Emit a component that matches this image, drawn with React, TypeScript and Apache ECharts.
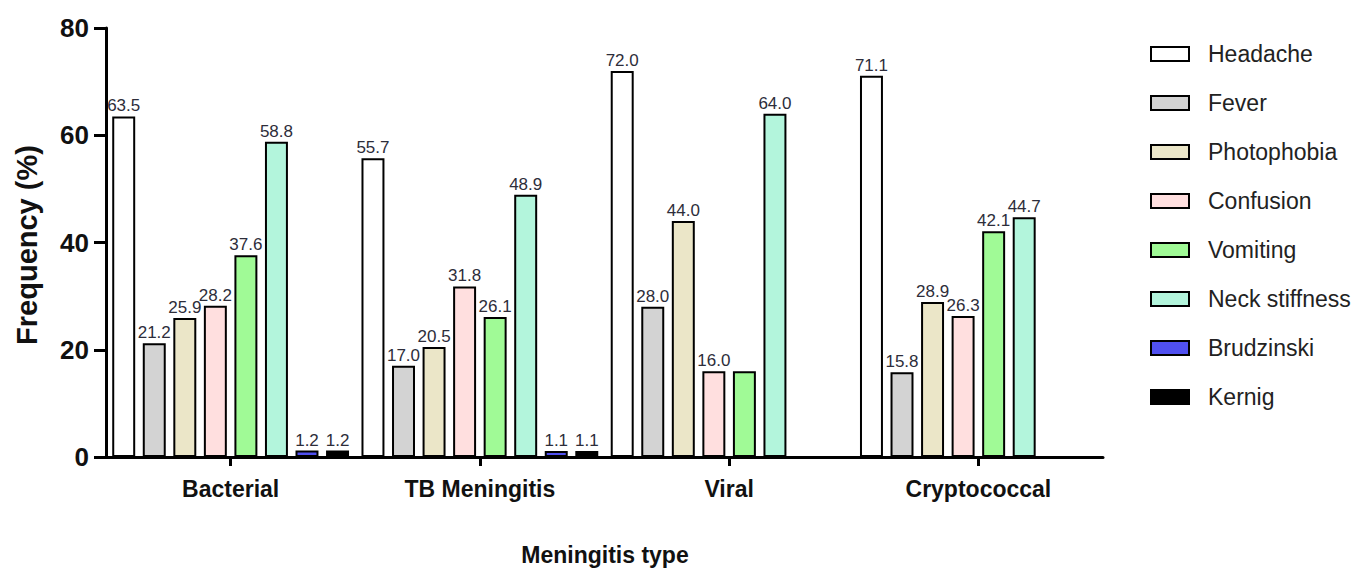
import React, { useEffect, useRef } from "react";
import * as echarts from "echarts";

const categories = ["Bacterial", "TB Meningitis", "Viral", "Cryptococcal"];
const seriesNames = [
  "Headache",
  "Fever",
  "Photophobia",
  "Confusion",
  "Vomiting",
  "Neck stiffness",
  "Brudzinski",
  "Kernig",
];
const headache = [63.5, 55.7, 72.0, 71.1];
const fever = [21.2, 17.0, 28.0, 15.8];
const photophobia = [25.9, 20.5, 44.0, 28.9];
const confusion = [28.2, 31.8, 16.0, 26.3];
const vomiting = [37.6, 26.1, 16.0, 42.1];
const neckStiffness = [58.8, 48.9, 64.0, 44.7];
const brudzinski = [1.2, 1.1, null, null];
const kernig = [1.2, 1.1, null, null];
const yTicks = [0, 20, 40, 60, 80];

const seriesValues = [headache, fever, photophobia, confusion, vomiting, neckStiffness, brudzinski, kernig];
const colors = ["#ffffff", "#d3d3d3", "#ebe6c8", "#ffdfdf", "#a0fa96", "#b3f5dc", "#5050f0", "#000000"];
// labels that are not shown in the reference (series index, category index)
const hiddenLabels = [[4, 2]];

export default function App() {
  const ref = useRef<HTMLDivElement>(null);
  useEffect(() => {
    if (!ref.current) return;
    const chart = echarts.init(ref.current, null, { renderer: "svg" });
    const series = seriesNames.map((name, si) => ({
      name,
      type: "bar",
      barCategoryGap: "5%",
      barGap: "33%",
      itemStyle: { color: colors[si], borderColor: "#000", borderWidth: 2 },
      label: {
        show: true,
        position: "top",
        distance: 2,
        fontFamily: "Liberation Sans, Arial, sans-serif",
        fontSize: 17,
        color: "#2d2d3a",
        formatter: (p: any) => (p.value == null ? "" : Number(p.value).toFixed(1)),
      },
      data: seriesValues[si].map((v, ci) => {
        if (v == null) return "-";
        const hide = hiddenLabels.some(([s, c]) => s === si && c === ci);
        return hide ? { value: v, label: { show: false } } : v;
      }),
    }));
    chart.setOption({
      animation: false,
      backgroundColor: "#ffffff",
      grid: { left: 106, top: 28, width: 997, height: 429, containLabel: false },
      legend: {
        orient: "vertical",
        left: 1145,
        top: 37,
        itemWidth: 38,
        itemHeight: 14,
        itemGap: 25,
        icon: "rect",
        data: seriesNames,
        textStyle: {
          fontFamily: "Liberation Sans, Arial, sans-serif",
          fontSize: 23,
          lineHeight: 24,
          color: "#222",
          padding: [0, 0, 0, 14],
        },
      },
      xAxis: {
        type: "category",
        data: categories,
        axisLine: { lineStyle: { color: "#000", width: 3 } },
        axisTick: {
          show: true,
          interval: 0,
          alignWithLabel: true,
          length: 9,
          lineStyle: { color: "#000", width: 3 },
        },
        axisLabel: {
          margin: 20,
          fontFamily: "Liberation Sans, Arial, sans-serif",
          fontWeight: "bold",
          fontSize: 23,
          color: "#111",
        },
      },
      yAxis: {
        type: "value",
        min: yTicks[0],
        max: yTicks[yTicks.length - 1],
        interval: yTicks[1] - yTicks[0],
        splitLine: { show: false },
        axisLine: { show: true, lineStyle: { color: "#000", width: 3 } },
        axisTick: { show: true, length: 12, lineStyle: { color: "#000", width: 3 } },
        axisLabel: {
          margin: 17,
          fontFamily: "Liberation Sans Narrow, Liberation Sans, Arial, sans-serif",
          fontWeight: "bold",
          fontSize: 26,
          color: "#111",
        },
      },
      graphic: [
        {
          type: "text",
          x: 27,
          y: 245,
          rotation: Math.PI / 2,
          style: {
            text: "Frequency (%)",
            fontFamily: "Liberation Sans, Arial, sans-serif",
            fontWeight: "bold",
            fontSize: 29,
            fill: "#111",
            textAlign: "center",
            textVerticalAlign: "middle",
          },
        },
        {
          type: "text",
          x: 605,
          y: 555,
          style: {
            text: "Meningitis type",
            fontFamily: "Liberation Sans, Arial, sans-serif",
            fontWeight: "bold",
            fontSize: 23,
            fill: "#111",
            textAlign: "center",
            textVerticalAlign: "middle",
          },
        },
      ],
      series,
    });
    return () => chart.dispose();
  }, []);
  return (
    <div
      ref={ref}
      style={{ position: "fixed", left: 0, top: 0, width: 1364, height: 577, background: "#fff" }}
    />
  );
}
